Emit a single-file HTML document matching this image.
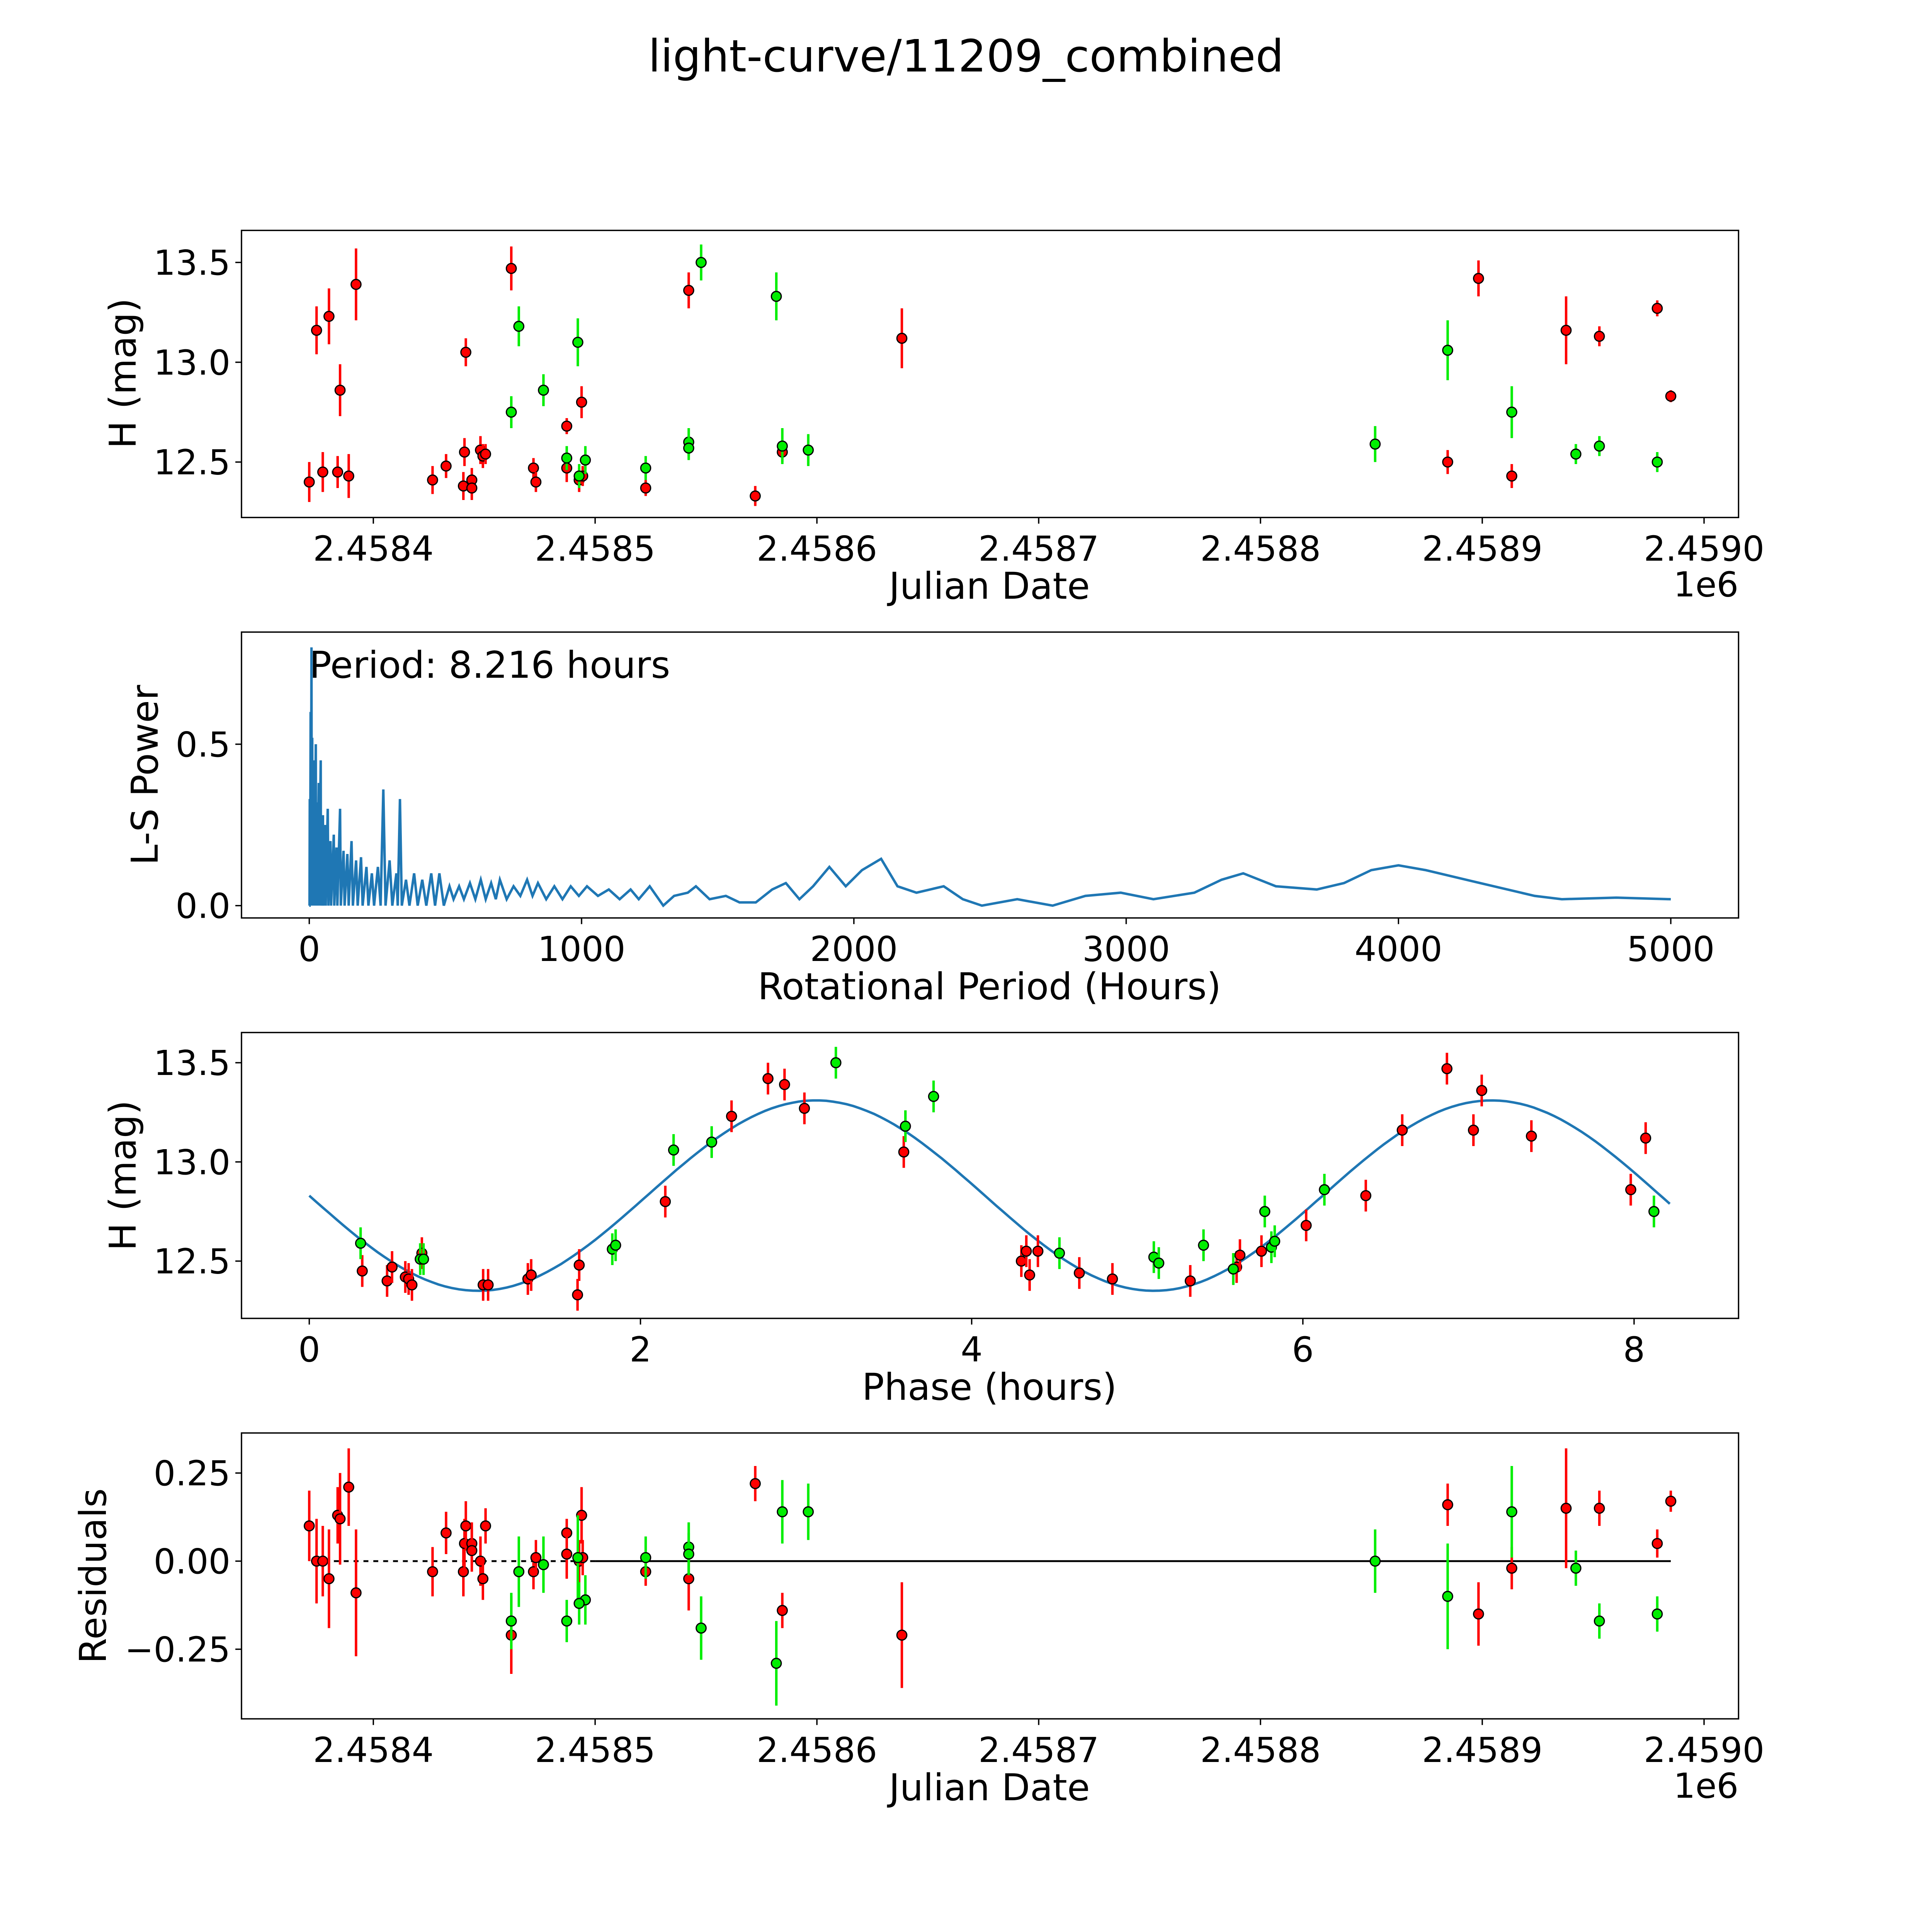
<!DOCTYPE html>
<html><head><meta charset="utf-8"><style>
html,body{margin:0;padding:0;background:#fff;overflow:hidden;width:100%;height:100%;}
svg{display:block;width:100vw;height:100vh;font-family:"DejaVu Sans","Liberation Sans",sans-serif;}
</style></head><body>
<svg id="fig" viewBox="0 0 1568 1568" preserveAspectRatio="xMidYMid meet" xmlns="http://www.w3.org/2000/svg">
<rect width="1568" height="1568" fill="#fff"/>
<text x="784" y="58" font-size="36" text-anchor="middle">light-curve/11209_combined</text>
</svg>
<script>
// ---------- data ----------
const redJD = [2458371.1,2458374.4,2458377.2,2458380.0,2458383.9,2458385.0,2458388.9,2458392.2,2458426.7,2458432.8,2458440.6,2458441.1,2458441.7,2458444.4,2458444.4,2458448.3,2458449.4,2458450.6,2458462.2,2458472.2,2458473.3,2458487.2,2458487.2,2458492.8,2458493.9,2458494.4,2458522.8,2458542.2,2458572.2,2458584.4,2458638.3,2458884.4,2458898.3,2458913.3,2458937.8,2458952.8,2458978.9,2458985.0];
const redMag = [12.40,13.16,12.45,13.23,12.45,12.86,12.43,13.39,12.41,12.48,12.38,12.55,13.05,12.41,12.37,12.56,12.53,12.54,13.47,12.47,12.40,12.68,12.47,12.41,12.80,12.43,12.37,13.36,12.33,12.55,13.12,12.50,13.42,12.43,13.16,13.13,13.27,12.83];
const redErr = [0.1,0.12,0.1,0.14,0.08,0.13,0.11,0.18,0.07,0.06,0.07,0.07,0.07,0.06,0.06,0.07,0.06,0.05,0.11,0.05,0.05,0.04,0.07,0.06,0.08,0.05,0.04,0.09,0.05,0.05,0.15,0.06,0.09,0.06,0.17,0.05,0.04,0.03];
const redRes = [0.10,0.00,0.00,-0.05,0.13,0.12,0.21,-0.09,-0.03,0.08,-0.03,0.05,0.10,0.05,0.03,0.00,-0.05,0.10,-0.21,-0.03,0.01,0.08,0.02,0.00,0.13,0.01,-0.03,-0.05,0.22,-0.14,-0.21,0.16,-0.15,-0.02,0.15,0.15,0.05,0.17];
const greenJD = [2458462.2,2458465.6,2458476.7,2458487.2,2458492.2,2458495.6,2458492.8,2458522.8,2458542.2,2458542.2,2458547.8,2458581.7,2458584.4,2458596.1,2458851.7,2458884.4,2458913.3,2458942.2,2458952.8,2458978.9];
const greenMag = [12.75,13.18,12.86,12.52,13.10,12.51,12.43,12.47,12.60,12.57,13.50,13.33,12.58,12.56,12.59,13.06,12.75,12.54,12.58,12.50];
const greenErr = [0.08,0.1,0.08,0.06,0.12,0.07,0.06,0.06,0.07,0.06,0.09,0.12,0.09,0.08,0.09,0.15,0.13,0.05,0.05,0.05];
const greenRes = [-0.17,-0.03,-0.01,-0.17,0.01,-0.11,-0.12,0.01,0.04,0.02,-0.19,-0.29,0.14,0.14,0.00,-0.10,0.14,-0.02,-0.17,-0.15];

const lsPeriod = [0,1,2,3,5,6,8,9,11,12,15,16,19,20,24,25,29,30,35,36,42,43,50,51,58,60,68,70,78,80,90,92,100,103,113,116,126,130,140,145,155,160,172,178,190,196,210,217,230,238,252,262,272,280,295,305,320,325,333,340,355,368,385,398,415,430,448,462,478,494,515,530,550,568,590,610,630,648,668,685,700,725,750,775,800,820,840,870,900,930,960,990,1020,1060,1100,1140,1180,1210,1250,1300,1340,1390,1420,1470,1530,1580,1640,1700,1750,1800,1850,1910,1970,2030,2100,2160,2230,2330,2400,2470,2600,2730,2850,2980,3100,3250,3350,3430,3550,3700,3800,3900,4000,4100,4300,4500,4600,4800,5000];
const lsPower = [0.0,0,0.33,0,0.6,0,0.8,0,0.52,0,0.45,0,0.38,0,0.5,0,0.32,0,0.38,0,0.45,0,0.28,0,0.25,0,0.3,0,0.2,0,0.22,0,0.18,0,0.3,0,0.17,0,0.16,0,0.2,0,0.14,0,0.15,0,0.12,0,0.1,0,0.12,0,0.36,0,0.14,0,0.1,0,0.33,0,0.08,0,0.1,0,0.08,0,0.1,0,0.1,0,0.06,0.02,0.06,0.02,0.07,0.02,0.08,0.02,0.07,0.02,0.08,0.02,0.06,0.03,0.08,0.03,0.07,0.02,0.06,0.02,0.06,0.03,0.06,0.03,0.05,0.02,0.05,0.02,0.06,0.0,0.03,0.04,0.06,0.02,0.03,0.01,0.01,0.05,0.07,0.02,0.06,0.12,0.06,0.11,0.145,0.06,0.04,0.06,0.02,0.0,0.02,0.0,0.03,0.04,0.02,0.04,0.08,0.10,0.06,0.05,0.07,0.11,0.125,0.11,0.07,0.03,0.02,0.025,0.02];

const phRedT = [0.32,0.47,0.5,0.58,0.6,0.62,0.68,1.05,1.08,1.32,1.34,1.62,1.63,2.15,2.55,2.77,2.87,2.99,3.59,4.3,4.33,4.35,4.4,4.65,4.85,5.32,5.58,5.6,5.62,5.75,6.02,6.38,6.6,6.87,7.03,7.08,7.38,7.98,8.07];
const phRedMag = [12.45,12.40,12.47,12.42,12.41,12.38,12.54,12.38,12.38,12.41,12.43,12.33,12.48,12.80,13.23,13.42,13.39,13.27,13.05,12.50,12.55,12.43,12.55,12.44,12.41,12.40,12.46,12.47,12.53,12.55,12.68,12.83,13.16,13.47,13.16,13.36,13.13,12.86,13.12];
const phGreenT = [0.31,0.67,0.69,1.83,1.85,2.2,2.43,3.18,3.6,3.77,4.53,5.1,5.13,5.4,5.58,5.77,5.81,5.83,6.13,8.12];
const phGreenMag = [12.59,12.51,12.51,12.56,12.58,13.06,13.10,13.50,13.18,13.33,12.54,12.52,12.49,12.58,12.46,12.75,12.57,12.60,12.86,12.75];
const fitParams = [12.83, 0.48, 1.02, 4.08]; // mean, amplitude, phase of min, half period
const fitRange = [0, 8.216];

const jdTicks = [2458400,2458500,2458600,2458700,2458800,2458900,2459000];
const jdTickLabels = ["2.4584","2.4585","2.4586","2.4587","2.4588","2.4589","2.4590"];
const magTicks = [12.5,13.0,13.5];
const lsXTicks = [0,1000,2000,3000,4000,5000];
const lsYTicks = [0.0,0.5];
const phXTicks = [0,2,4,6,8];
const resTicks = [-0.25,0,0.25];
const resTickLabels = ["\u22120.25","0.00","0.25"];

// ---------- drawing ----------
const NS="http://www.w3.org/2000/svg";
const svg=document.getElementById('fig');
function mk(tag,attrs,parent){const e=document.createElementNS(NS,tag);for(const k in attrs)e.setAttribute(k,attrs[k]);(parent||svg).appendChild(e);return e;}
const L=196,R=1411;
const panels=[{t:187,b:420},{t:513,b:745},{t:838,b:1070},{t:1163,b:1395}];
const xJD=v=>303+(v-2458400)*1.8;
const y1=m=>294-(m-13)*162;
const xLS=v=>251+v*0.221;
const yLS=v=>735-v*262;
const xPH=v=>251+v*134.4;
const yPH=m=>943-(m-13)*161;
const yRS=v=>1267-v*286;

function frame(p,name){
  const r=mk('rect',{x:L,y:p.t,width:R-L,height:p.b-p.t,fill:'none',stroke:'#000','stroke-width':1.1});
  
  
}
function xticks(p,vals,labels,fx,name){
  vals.forEach((v,i)=>{const x=fx(v);
    const l=mk('line',{x1:x,x2:x,y1:p.b,y2:p.b+5,stroke:'#000','stroke-width':1.1});
    
    
    const t=mk('text',{x:x,y:p.b+35,'font-size':28,'text-anchor':'middle'});t.textContent=labels[i];
    
    });
}
function yticks(p,vals,labels,fy,name){
  vals.forEach((v,i)=>{const y=fy(v);
    const l=mk('line',{x1:L-5,x2:L,y1:y,y2:y,stroke:'#000','stroke-width':1.1});
    
    
    const t=mk('text',{x:L-9,y:y+10,'font-size':28,'text-anchor':'end'});t.textContent=labels[i];
    
    });
}
function label(x,y,txt,rot,name){
  const t=mk('text',{x:x,y:y,'font-size':30,'text-anchor':'middle'});
  if(rot)t.setAttribute('transform','rotate(-90 '+x+' '+y+')');
  t.textContent=txt;
  
  
}
function point(x,y,ylo,yhi,color,name){
  const l=mk('line',{x1:x,x2:x,y1:ylo,y2:yhi,stroke:color,'stroke-width':2});
  
  
  const c=mk('circle',{cx:x,cy:y,r:4,fill:color,stroke:'#000','stroke-width':1});
  
  
}
const RED='#ff0000',GRN='#00ee00';

// Panel 1
frame(panels[0],'light-curve');
xticks(panels[0],jdTicks,jdTickLabels,xJD,'light-curve');
yticks(panels[0],magTicks,magTicks.map(v=>v.toFixed(1)),y1,'light-curve');
label(803,486,'Julian Date',false,'light-curve-x-axis-title');
label(110,303,'H (mag)',true,'light-curve-y-axis-title');
const o1=mk('text',{x:1411,y:484,'font-size':28,'text-anchor':'end'});o1.textContent='1e6';


redJD.forEach((j,i)=>point(xJD(j),y1(redMag[i]),y1(redMag[i]-redErr[i]),y1(redMag[i]+redErr[i]),RED,'red-point'));
greenJD.forEach((j,i)=>point(xJD(j),y1(greenMag[i]),y1(greenMag[i]-greenErr[i]),y1(greenMag[i]+greenErr[i]),GRN,'green-point'));

// Panel 2
frame(panels[1],'periodogram');
xticks(panels[1],lsXTicks,lsXTicks.map(String),xLS,'periodogram');
yticks(panels[1],lsYTicks,lsYTicks.map(v=>v.toFixed(1)),yLS,'periodogram');
label(803,811,'Rotational Period (Hours)',false,'periodogram-x-axis-title');
label(128,629,'L-S Power',true,'periodogram-y-axis-title');
let d='';lsPeriod.forEach((p,i)=>{d+=(i?'L':'M')+xLS(p).toFixed(1)+' '+yLS(lsPower[i]).toFixed(1);});
const lsp=mk('path',{d:d,fill:'none',stroke:'#1f77b4','stroke-width':2});


const ann=mk('text',{x:251,y:550,'font-size':30});ann.textContent='Period: 8.216 hours';



// Panel 3
frame(panels[2],'phase');
xticks(panels[2],phXTicks,phXTicks.map(String),xPH,'phase');
yticks(panels[2],magTicks,magTicks.map(v=>v.toFixed(1)),yPH,'phase');
label(803,1136,'Phase (hours)',false,'phase-x-axis-title');
label(110,954,'H (mag)',true,'phase-y-axis-title');
let fd='';for(let k=0;k<=200;k++){const t=fitRange[0]+(fitRange[1]-fitRange[0])*k/200;
  const m=fitParams[0]-fitParams[1]*Math.cos(2*Math.PI*(t-fitParams[2])/fitParams[3]);
  fd+=(k?'L':'M')+xPH(t).toFixed(1)+' '+yPH(m).toFixed(1);}
const fit=mk('path',{d:fd,fill:'none',stroke:'#1f77b4','stroke-width':2});


phRedT.forEach((t,i)=>{const e=0.08;point(xPH(t),yPH(phRedMag[i]),yPH(phRedMag[i]-e),yPH(phRedMag[i]+e),RED,'phase-red-point');});
phGreenT.forEach((t,i)=>{const e=0.08;point(xPH(t),yPH(phGreenMag[i]),yPH(phGreenMag[i]-e),yPH(phGreenMag[i]+e),GRN,'phase-green-point');});

// Panel 4
frame(panels[3],'residuals');
xticks(panels[3],jdTicks,jdTickLabels,xJD,'residuals');
yticks(panels[3],resTicks,resTickLabels,yRS,'residuals');
label(803,1461,'Julian Date',false,'residuals-x-axis-title');
label(86,1279,'Residuals',true,'residuals-y-axis-title');
const o2=mk('text',{x:1411,y:1459,'font-size':28,'text-anchor':'end'});o2.textContent='1e6';


const zl=mk('line',{x1:xJD(redJD[0]),x2:xJD(redJD[redJD.length-1]),y1:yRS(0),y2:yRS(0),stroke:'#000','stroke-width':1.5});


const zd=mk('line',{x1:xJD(redJD[0]),x2:xJD(2458500),y1:yRS(0),y2:yRS(0),stroke:'#fff','stroke-width':1.6,'stroke-dasharray':'4 4'});


redJD.forEach((j,i)=>point(xJD(j),yRS(redRes[i]),yRS(redRes[i]-redErr[i]),yRS(redRes[i]+redErr[i]),RED,'residual-red-point'));
greenJD.forEach((j,i)=>point(xJD(j),yRS(greenRes[i]),yRS(greenRes[i]-greenErr[i]),yRS(greenRes[i]+greenErr[i]),GRN,'residual-green-point'));
</script>
</body></html>
